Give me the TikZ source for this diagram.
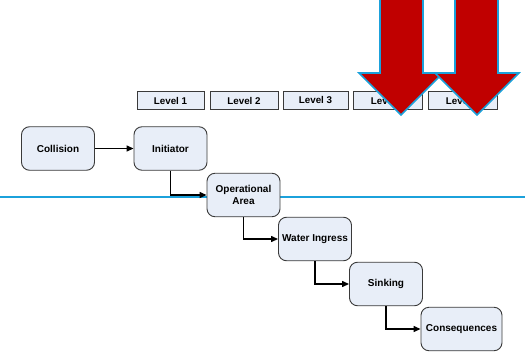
\documentclass[tikz,border=0pt]{standalone}
\usepackage{fontspec}
\setmainfont{Liberation Sans}
\usetikzlibrary{arrows.meta}
\definecolor{boxfill}{HTML}{E8EEF8}
\definecolor{boxline}{HTML}{3A3A3A}
\definecolor{cyanline}{HTML}{1BA1DB}
\definecolor{darkred}{HTML}{C00000}
\begin{document}
\begin{tikzpicture}[x=1pt,y=-1pt,
  stepnode/.style={draw=boxline, line width=0.9pt, fill=boxfill, rounded corners=8pt,
    minimum width=73pt, minimum height=43.5pt, align=center, inner sep=1pt,
    font=\fontsize{10}{11.5}\selectfont\bfseries},
  levelbox/.style={draw=boxline, line width=0.9pt, fill=boxfill,
    minimum width=67pt, minimum height=18.5pt, inner sep=1pt,
    font=\fontsize{9.8}{11}\selectfont\bfseries},
  conn/.style={draw=black, line width=1.3pt, -{Triangle[length=7pt,width=6pt]}},
  bigarrow/.style={fill=darkred, draw=cyanline, line width=1.6pt, line join=miter}
]
\useasboundingbox (0,0) rectangle (525,351);
\begin{scope}
\clip (0,0) rectangle (525,351);

% cyan separator
\draw[cyanline, line width=2pt] (0,197) coordinate (sepL) -- (525,197) coordinate (sepR);

% nodes
\node[stepnode] (collision) at (58,148.5) {Collision};
\node[stepnode] (initiator) at (170.5,148.5) {Initiator};
\node[stepnode] (oparea) at (243.5,195) {Operational\\Area};
\node[stepnode] (water) at (315,239) {Water Ingress};
\node[stepnode] (sinking) at (386,284) {Sinking};
\node[stepnode, minimum width=81pt] (cons) at (461.5,329) {Consequences};

% connectors
\draw[conn] (collision.east) -- (initiator.west);
\draw[conn] (initiator.south) |- (oparea.west);
\draw[conn] (oparea.south) |- (water.west);
\draw[conn] (water.south) |- (sinking.west);
\draw[conn] (sinking.south) |- (cons.west);

% levels
\node[levelbox] (l1) at (170.5,100.5) {Level 1};
\node[levelbox, minimum width=68pt] (l2) at (244,100.5) {Level 2};
\node[levelbox, minimum width=65pt] (l3) at (315.5,100.5) {Level 3};
\node[levelbox, minimum width=69pt] (l4) at (387.5,100.5) {Level 4};
\node[levelbox, minimum width=69pt] (l5) at (462.5,100.5) {Level 5};

% big red arrows
\draw[bigarrow] (380,-5) -- (380,73) -- (359,73) -- (401,115) -- (443,73) -- (423,73) -- (423,-5) -- cycle;
\draw[bigarrow] (455,-5) -- (455,73) -- (435,73) -- (477,115) -- (519,73) -- (498,73) -- (498,-5) -- cycle;
\end{scope}
\end{tikzpicture}
\end{document}
